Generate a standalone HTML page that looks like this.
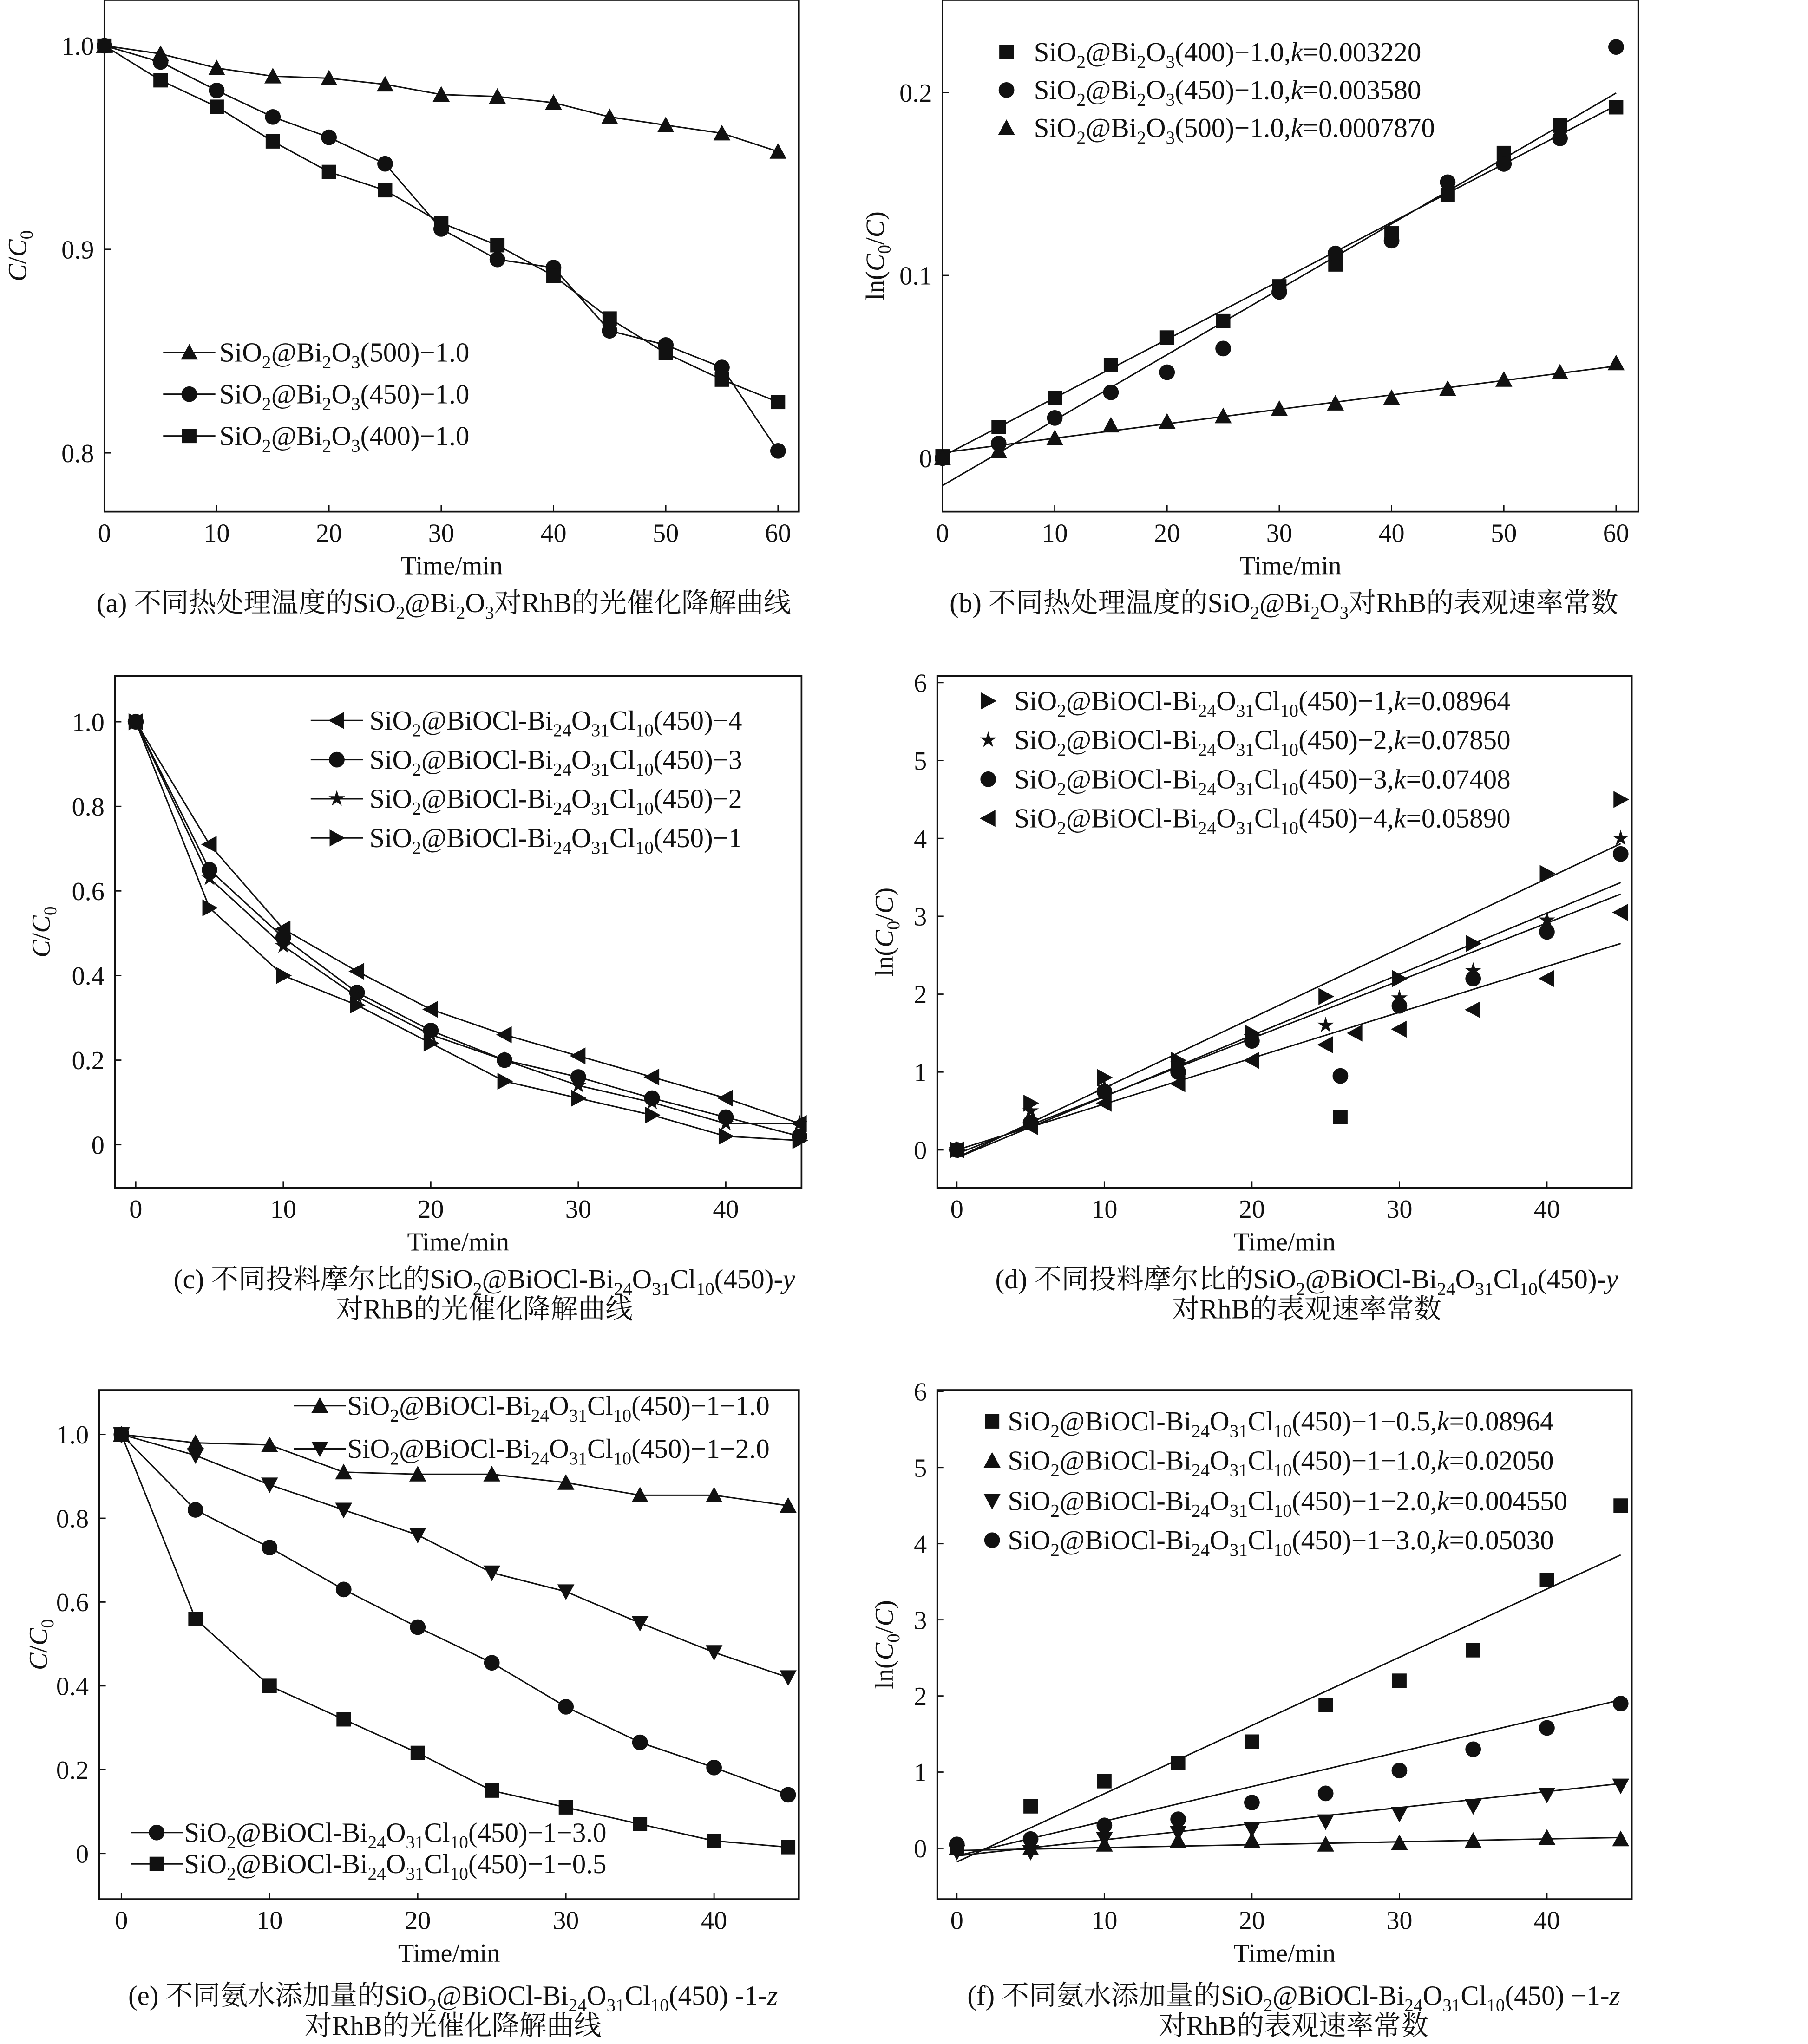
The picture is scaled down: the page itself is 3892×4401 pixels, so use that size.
<!DOCTYPE html>
<html><head><meta charset="utf-8"><style>
html,body{margin:0;padding:0;background:#fff;}
svg{display:block;}
text{font-family:"Liberation Serif","Noto Serif CJK SC","Noto Sans CJK SC",serif;fill:#111;}
</style></head><body>
<svg id="fig" width="3892" height="4401" viewBox="0 0 1385 1566" preserveAspectRatio="none" xmlns="http://www.w3.org/2000/svg"></svg>
<script>
// ---- data ----
const timesA = [0,5,10,15,20,25,30,35,40,45,50,55,60];
const a500 = [1.0,0.996,0.989,0.985,0.984,0.981,0.976,0.975,0.972,0.965,0.961,0.957,0.948];
const a450 = [1.0,0.992,0.978,0.965,0.955,0.942,0.910,0.895,0.891,0.860,0.853,0.842,0.801];
const a400 = [1.0,0.983,0.970,0.953,0.938,0.929,0.913,0.902,0.887,0.866,0.849,0.836,0.825];
const b400 = [0.001,0.017,0.033,0.051,0.066,0.075,0.094,0.106,0.123,0.144,0.167,0.182,0.192];
const b450 = [0.0,0.008,0.022,0.036,0.047,0.060,0.091,0.112,0.119,0.151,0.161,0.175,0.225];
const b500 = [0.0,0.004,0.011,0.018,0.020,0.023,0.027,0.030,0.033,0.038,0.043,0.047,0.052];
const bFitSlope = [0.00320,0.00358,0.00079];
const bFitIntercept = [0.001,-0.015,0.003];
const timesC = [0,5,10,15,20,25,30,35,40,45];
const c4 = [1.0,0.71,0.51,0.41,0.32,0.26,0.21,0.16,0.11,0.05];
const c3 = [1.0,0.65,0.49,0.36,0.27,0.20,0.16,0.11,0.065,0.02];
const c2 = [1.0,0.63,0.47,0.35,0.26,0.20,0.14,0.10,0.05,0.05];
const c1 = [1.0,0.56,0.40,0.33,0.24,0.15,0.11,0.07,0.02,0.01];
const d1 = [0,0.6,0.93,1.15,1.5,1.97,2.2,2.65,3.55,4.5];
const d2 = [0,0.5,0.8,1.1,1.45,1.6,1.95,2.3,2.95,4.0];
const d3t = [0,5,10,15,20,26,30,35,40,45];
const d3 = [0,0.35,0.75,1.0,1.4,0.95,1.85,2.2,2.8,3.8];
const d4t = [0,5,10,15,20,25,27,30,35,40,45];
const d4 = [0,0.3,0.6,0.85,1.15,1.35,1.5,1.55,1.8,2.2,3.05];
const dStrayT = [26], dStray = [0.42];
const dFitSlope = [0.0896,0.0785,0.0741,0.0589];
const dFitIntercept = [-0.1,-0.1,-0.05,0.0];
const e10 = [1.0,0.98,0.975,0.91,0.905,0.905,0.885,0.855,0.855,0.83];
const e20 = [1.0,0.95,0.88,0.82,0.76,0.67,0.625,0.55,0.48,0.42];
const e30 = [1.0,0.82,0.73,0.63,0.54,0.455,0.35,0.265,0.205,0.14];
const e05 = [1.0,0.56,0.40,0.32,0.24,0.15,0.11,0.07,0.03,0.015];
const f05 = [0,0.55,0.88,1.12,1.4,1.88,2.2,2.6,3.52,4.5];
const f10 = [0,0.0,0.05,0.1,0.1,0.05,0.07,0.1,0.14,0.12];
const f20 = [-0.05,-0.05,0.12,0.2,0.25,0.35,0.45,0.55,0.7,0.82];
const f30 = [0.05,0.12,0.3,0.38,0.6,0.72,1.02,1.3,1.58,1.9];
const fFitSlope = [0.0896,0.0038,0.0211,0.0455];
const fFitIntercept = [-0.18,-0.03,-0.1,-0.1];

const NS="http://www.w3.org/2000/svg";
const svg=document.getElementById('fig');
const FS=21, TFS=20;
function el(tag,attrs,parent){const e=document.createElementNS(NS,tag);for(const k in attrs)e.setAttribute(k,attrs[k]);(parent||svg).appendChild(e);return e;}
function fmt(s){return s.replace(/_\{(.*?)\}/g,'<tspan baseline-shift="-5" font-size="14">$1</tspan>').replace(/\*k\*/g,'<tspan font-style="italic">k</tspan>').replace(/\*y\*/g,'<tspan font-style="italic">y</tspan>').replace(/\*z\*/g,'<tspan font-style="italic">z</tspan>');}
function txt(x,y,s,size,anchor,parent){const t=el('text',{x:x,y:y,'font-size':size,'text-anchor':anchor||'start'},parent);t.innerHTML=fmt(s);return t;}
function marker(g,type,x,y){const r=5.5;let m;
 if(type==='sq')m=el('rect',{x:x-r,y:y-r,width:2*r,height:2*r,fill:'#111'},g);
 else if(type==='ci')m=el('circle',{cx:x,cy:y,r:r+0.5,fill:'#111'},g);
 else{let p;
  if(type==='up')p=[[x,y-r-1],[x+r+1,y+r],[x-r-1,y+r]];
  if(type==='dn')p=[[x,y+r+1],[x+r+1,y-r],[x-r-1,y-r]];
  if(type==='lt')p=[[x-r-1,y],[x+r,y-r-1],[x+r,y+r+1]];
  if(type==='rt')p=[[x+r+1,y],[x-r,y-r-1],[x-r,y+r+1]];
  if(type==='st'){p=[];for(let i=0;i<10;i++){const a=-Math.PI/2+i*Math.PI/5,rr=i%2?r*0.45:r*1.2;p.push([x+rr*Math.cos(a),y+rr*Math.sin(a)]);}}
  m=el('polygon',{points:p.map(q=>q.join(',')).join(' '),fill:'#111'},g);}
 
 
 return m;}

function panel(cfg){
 const g=el('g',{});
 
 
 const sx=v=>cfg.x0+(v-cfg.xv0)*(cfg.x1-cfg.x0)/(cfg.xv1-cfg.xv0);
 const sy=v=>cfg.y0+(v-cfg.yv0)*(cfg.y1-cfg.y0)/(cfg.yv1-cfg.yv0);
 const fr=el('rect',{x:cfg.box[0],y:cfg.box[1],width:cfg.box[2]-cfg.box[0],height:cfg.box[3]-cfg.box[1],fill:'none',stroke:'#111','stroke-width':1.3},g);
 
 
 cfg.xt.forEach(v=>{const x=sx(v);el('line',{x1:x,y1:cfg.box[3],x2:x,y2:cfg.box[3]-5,stroke:'#111'},g);
   const t=txt(x,cfg.box[3]+23,String(v),TFS,'middle',g);});
 cfg.yt.forEach((v,i)=>{const y=sy(v);el('line',{x1:cfg.box[0],y1:y,x2:cfg.box[0]+5,y2:y,stroke:'#111'},g);
   const t=txt(cfg.box[0]-8,y+7,cfg.ytl[i],TFS,'end',g);});
 const xt=txt((cfg.box[0]+cfg.box[2])/2,cfg.box[3]+48,'Time/min',TFS,'middle',g);
 
 const yt=el('text',{x:0,y:0,'font-size':TFS,'text-anchor':'middle',transform:`translate(${cfg.ytx},${(cfg.box[1]+cfg.box[3])/2}) rotate(-90)`},g);
 yt.innerHTML=cfg.ytitle;
 
 (cfg.fits||[]).forEach(f=>{const l=el('line',{x1:sx(f[0]),y1:sy(f[2]+f[3]*f[0]),x2:sx(f[1]),y2:sy(f[2]+f[3]*f[1]),stroke:'#111','stroke-width':1.1},g);
   });
 cfg.series.forEach(s=>{
   if(s.line){const pl=el('polyline',{points:s.t.map((t,i)=>sx(t)+','+sy(s.v[i])).join(' '),fill:'none',stroke:'#111','stroke-width':1.1},g);
     }
   s.t.forEach((t,i)=>marker(g,s.m,sx(t),sy(s.v[i])));});
 cfg.legend.forEach(L=>{const lg=el('g',{},g);
   
   
   if(L.line)el('line',{x1:L.x-20,y1:L.y,x2:L.x+20,y2:L.y,stroke:'#111','stroke-width':1.1},lg);
   marker(lg,L.m,L.x,L.y);txt(L.tx,L.y+7,L.s,FS,'start',lg);});
 cfg.caption.forEach((c,i)=>{const t=txt((cfg.box[0]+cfg.box[2])/2-cfg.capOff,cfg.capY+i*23,c,FS,'middle',g);
   });
}
const CT='<tspan font-style="italic">C</tspan>/<tspan font-style="italic">C</tspan><tspan baseline-shift="-5" font-size="14">0</tspan>';
const LT='ln(<tspan font-style="italic">C</tspan><tspan baseline-shift="-5" font-size="14">0</tspan>/<tspan font-style="italic">C</tspan>)';
const S='SiO_{2}@BiOCl-Bi_{24}O_{31}Cl_{10}(450)';
// (a)
panel({name:'panel-a',box:[80,0,612,392],x0:80,x1:596,xv0:0,xv1:60,y0:35,y1:347,yv0:1.0,yv1:0.8,
 xt:[0,10,20,30,40,50,60],yt:[1.0,0.9,0.8],ytl:['1.0','0.9','0.8'],ytx:20,ytitle:CT,
 series:[{t:timesA,v:a500,m:'up',line:1},{t:timesA,v:a450,m:'ci',line:1},{t:timesA,v:a400,m:'sq',line:1}],
 legend:[{x:145,y:270,tx:168,m:'up',line:1,s:'SiO_{2}@Bi_{2}O_{3}(500)−1.0'},{x:145,y:302,tx:168,m:'ci',line:1,s:'SiO_{2}@Bi_{2}O_{3}(450)−1.0'},{x:145,y:334,tx:168,m:'sq',line:1,s:'SiO_{2}@Bi_{2}O_{3}(400)−1.0'}],
 caption:['(a) 不同热处理温度的SiO_{2}@Bi_{2}O_{3}对RhB的光催化降解曲线'],capY:469,capOff:6});
// (b)
panel({name:'panel-b',box:[722,0,1255,392],x0:722,x1:1238,xv0:0,xv1:60,y0:351,y1:71,yv0:0,yv1:0.2,
 xt:[0,10,20,30,40,50,60],yt:[0,0.1,0.2],ytl:['0','0.1','0.2'],ytx:677,ytitle:LT,
 fits:[[0,60,bFitIntercept[0],bFitSlope[0]],[0,60,bFitIntercept[1],bFitSlope[1]],[0,60,bFitIntercept[2],bFitSlope[2]]],
 series:[{t:timesA,v:b400,m:'sq'},{t:timesA,v:b450,m:'ci'},{t:timesA,v:b500,m:'up'}],
 legend:[{x:771,y:40,tx:792,m:'sq',s:'SiO_{2}@Bi_{2}O_{3}(400)−1.0,*k*=0.003220'},{x:771,y:69,tx:792,m:'ci',s:'SiO_{2}@Bi_{2}O_{3}(450)−1.0,*k*=0.003580'},{x:771,y:98,tx:792,m:'up',s:'SiO_{2}@Bi_{2}O_{3}(500)−1.0,*k*=0.0007870'}],
 caption:['(b) 不同热处理温度的SiO_{2}@Bi_{2}O_{3}对RhB的表观速率常数'],capY:469,capOff:5});
// (c)
panel({name:'panel-c',box:[88,518,614,910],x0:104,x1:556,xv0:0,xv1:40,y0:553,y1:877,yv0:1.0,yv1:0,
 xt:[0,10,20,30,40],yt:[1.0,0.8,0.6,0.4,0.2,0],ytl:['1.0','0.8','0.6','0.4','0.2','0'],ytx:38,ytitle:CT,
 series:[{t:timesC,v:c4,m:'lt',line:1},{t:timesC,v:c3,m:'ci',line:1},{t:timesC,v:c2,m:'st',line:1},{t:timesC,v:c1,m:'rt',line:1}],
 legend:[{x:258,y:552,tx:283,m:'lt',line:1,s:S+'−4'},{x:258,y:582,tx:283,m:'ci',line:1,s:S+'−3'},{x:258,y:612,tx:283,m:'st',line:1,s:S+'−2'},{x:258,y:642,tx:283,m:'rt',line:1,s:S+'−1'}],
 caption:['(c) 不同投料摩尔比的SiO_{2}@BiOCl-Bi_{24}O_{31}Cl_{10}(450)-*y*','对RhB的光催化降解曲线'],capY:987,capOff:-20});
// (d)
panel({name:'panel-d',box:[718,518,1250,910],x0:733,x1:1185,xv0:0,xv1:40,y0:881,y1:523,yv0:0,yv1:6,
 xt:[0,10,20,30,40],yt:[0,1,2,3,4,5,6],ytl:['0','1','2','3','4','5','6'],ytx:684,ytitle:LT,
 fits:[[0,45,dFitIntercept[0],dFitSlope[0]],[0,45,dFitIntercept[1],dFitSlope[1]],[0,45,dFitIntercept[2],dFitSlope[2]],[0,45,dFitIntercept[3],dFitSlope[3]]],
 series:[{t:timesC,v:d1,m:'rt'},{t:timesC,v:d2,m:'st'},{t:d3t,v:d3,m:'ci'},{t:d4t,v:d4,m:'lt'},{t:dStrayT,v:dStray,m:'sq'}],
 legend:[{x:757,y:537,tx:777,m:'rt',s:S+'−1,*k*=0.08964'},{x:757,y:567,tx:777,m:'st',s:S+'−2,*k*=0.07850'},{x:757,y:597,tx:777,m:'ci',s:S+'−3,*k*=0.07408'},{x:757,y:627,tx:777,m:'lt',s:S+'−4,*k*=0.05890'}],
 caption:['(d) 不同投料摩尔比的SiO_{2}@BiOCl-Bi_{24}O_{31}Cl_{10}(450)-*y*','对RhB的表观速率常数'],capY:987,capOff:-17});
// (e)
panel({name:'panel-e',box:[76,1065,612,1455],x0:93,x1:547,xv0:0,xv1:40,y0:1099,y1:1420,yv0:1.0,yv1:0,
 xt:[0,10,20,30,40],yt:[1.0,0.8,0.6,0.4,0.2,0],ytl:['1.0','0.8','0.6','0.4','0.2','0'],ytx:36,ytitle:CT,
 series:[{t:timesC,v:e10,m:'up',line:1},{t:timesC,v:e20,m:'dn',line:1},{t:timesC,v:e30,m:'ci',line:1},{t:timesC,v:e05,m:'sq',line:1}],
 legend:[{x:245,y:1077,tx:266,m:'up',line:1,s:S+'−1−1.0'},{x:245,y:1110,tx:266,m:'dn',line:1,s:S+'−1−2.0'},{x:120,y:1404,tx:141,m:'ci',line:1,s:S+'−1−3.0'},{x:120,y:1428,tx:141,m:'sq',line:1,s:S+'−1−0.5'}],
 caption:['(e) 不同氨水添加量的SiO_{2}@BiOCl-Bi_{24}O_{31}Cl_{10}(450) -1-*z*','对RhB的光催化降解曲线'],capY:1536,capOff:-3});
// (f)
panel({name:'panel-f',box:[718,1065,1250,1455],x0:733,x1:1185,xv0:0,xv1:40,y0:1416,y1:1066,yv0:0,yv1:6,
 xt:[0,10,20,30,40],yt:[0,1,2,3,4,5,6],ytl:['0','1','2','3','4','5','6'],ytx:684,ytitle:LT,
 fits:[[0,45,fFitIntercept[0],fFitSlope[0]],[0,45,fFitIntercept[1],fFitSlope[1]],[0,45,fFitIntercept[2],fFitSlope[2]],[0,45,fFitIntercept[3],fFitSlope[3]]],
 series:[{t:timesC,v:f05,m:'sq'},{t:timesC,v:f10,m:'up'},{t:timesC,v:f20,m:'dn'},{t:timesC,v:f30,m:'ci'}],
 legend:[{x:760,y:1089,tx:772,m:'sq',s:S+'−1−0.5,*k*=0.08964'},{x:760,y:1119,tx:772,m:'up',s:S+'−1−1.0,*k*=0.02050'},{x:760,y:1150,tx:772,m:'dn',s:S+'−1−2.0,*k*=0.004550'},{x:760,y:1180,tx:772,m:'ci',s:S+'−1−3.0,*k*=0.05030'}],
 caption:['(f) 不同氨水添加量的SiO_{2}@BiOCl-Bi_{24}O_{31}Cl_{10}(450) −1-*z*','对RhB的表观速率常数'],capY:1536,capOff:-7});
</script>
</body></html>
